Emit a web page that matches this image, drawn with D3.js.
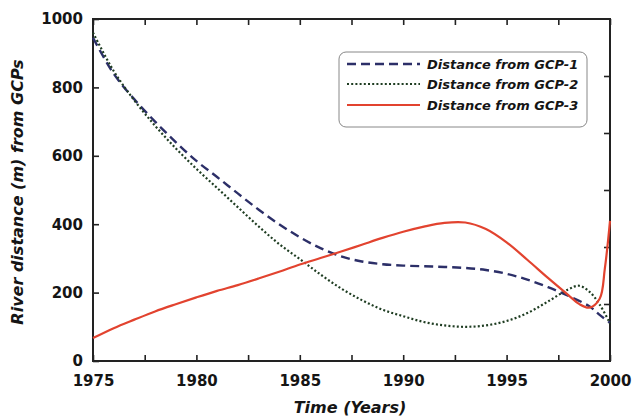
<!DOCTYPE html>
<html>
<head>
<meta charset="utf-8">
<script src="https://cdn.jsdelivr.net/npm/d3@7/dist/d3.min.js"></script>
<style>
  html, body { margin: 0; padding: 0; background: #fff; }
  svg { display: block; }
  text { font-family: "DejaVu Sans", sans-serif; font-weight: bold; fill: #151515; }
</style>
</head>
<body>
<svg id="chart" width="633" height="420"></svg>
<script>
// River distance from three ground control points, 1975–2000
const years1 = [1975,1976,1977,1978,1979,1980,1981,1982,1983,1984,1985,1986,1987,1988,1989,1990,1991,1992,1993,1994,1995,1996,1997,1998,1999,1999.5,2000];
const gcp1   = [945, 840, 765, 700, 640, 585, 538, 490, 443, 400, 362, 330, 306, 291, 283, 279, 277, 275, 272, 266, 255, 238, 216, 190, 160, 135, 112];

const years2 = [1975,1976,1977,1978,1979,1980,1981,1982,1983,1984,1985,1986,1987,1988,1989,1990,1991,1992,1993,1994,1995,1996,1997,1998,1998.5,1999,1999.5,2000];
const gcp2   = [960, 848, 762, 688, 622, 562, 506, 450, 394, 342, 298, 253, 212, 178, 150, 131, 114, 104, 100, 104, 117, 140, 174, 210, 220, 203, 165, 110];

const years3 = [1975,1976,1977,1978,1979,1980,1981,1982,1983,1984,1985,1986,1987,1988,1989,1990,1991,1992,1993,1994,1995,1996,1997,1998,1998.5,1999,1999.5,1999.75,2000];
const gcp3   = [67,  96,  121, 145, 166, 186, 205, 222, 241, 261, 282, 301, 320, 340, 360, 378, 393, 404, 405, 386, 347, 296, 243, 192, 167, 156, 182, 270, 410];

const seriesNames = ["Distance from GCP-1", "Distance from GCP-2", "Distance from GCP-3"];
const xTickLabels = [1975, 1980, 1985, 1990, 1995, 2000];
const yTickLabels = [0, 200, 400, 600, 800, 1000];

const svg = d3.select("#chart");
const m = { left: 93, right: 610, top: 19, bottom: 361 };

const x = d3.scaleLinear().domain([1975, 2000]).range([m.left, m.right]);
const y = d3.scaleLinear().domain([0, 1000]).range([m.bottom, m.top]);
const yRight = d3.scaleLinear().domain([0, 6]).range([m.bottom, m.top]);

const tickLen = 6;
const minorX = d3.range(0, 11).map(i => 1975 + i * 2.5);

// Bottom axis: inward ticks, labels every 5 years
const axBottom = svg.append("g").attr("transform", `translate(0,${m.bottom})`)
  .call(d3.axisBottom(x).tickValues(minorX).tickSize(-tickLen)
    .tickFormat(d => xTickLabels.includes(d) ? d3.format("d")(d) : "").tickPadding(14));
axBottom.select(".domain").remove();
axBottom.selectAll("text").attr("font-size", 15).attr("font-family", null);

// Top axis: inward ticks, no labels
const axTop = svg.append("g").attr("transform", `translate(0,${m.top})`)
  .call(d3.axisTop(x).tickValues(minorX).tickSize(-tickLen).tickFormat(""));
axTop.select(".domain").remove();

// Left axis
const axLeft = svg.append("g").attr("transform", `translate(${m.left},0)`)
  .call(d3.axisLeft(y).tickValues(yTickLabels).tickSize(-tickLen)
    .tickFormat(d3.format("d")).tickPadding(10));
axLeft.select(".domain").remove();
axLeft.selectAll("text").attr("font-size", 15).attr("font-family", null);

// Right axis: six inward divisions
const axRight = svg.append("g").attr("transform", `translate(${m.right},0)`)
  .call(d3.axisRight(yRight).tickValues([1,2,3,4,5]).tickSize(-tickLen).tickFormat(""));
axRight.select(".domain").remove();

svg.selectAll(".tick line").attr("stroke", "#222").attr("stroke-width", 1.6);

// Frame
svg.append("rect")
  .attr("x", m.left).attr("y", m.top)
  .attr("width", m.right - m.left).attr("height", m.bottom - m.top)
  .attr("fill", "none").attr("stroke", "#222").attr("stroke-width", 2);

// Curves
const line = d3.line().x(d => x(d[0])).y(d => y(d[1])).curve(d3.curveCatmullRom.alpha(0.5));
const styles = [
  { color: "#2c2f68", width: 2.4, dash: "9,5" },
  { color: "#1f3d22", width: 2.2, dash: "2,2.2" },
  { color: "#e2432f", width: 2.2, dash: null }
];
const data = [
  d3.zip(years1, gcp1),
  d3.zip(years2, gcp2),
  d3.zip(years3, gcp3)
];
const plot = svg.append("g");
data.forEach((d, i) => {
  plot.append("path").datum(d)
    .attr("d", line)
    .attr("fill", "none")
    .attr("stroke", styles[i].color)
    .attr("stroke-width", styles[i].width)
    .attr("stroke-dasharray", styles[i].dash);
});

// Legend
const lg = svg.append("g");
lg.append("rect").attr("x", 339).attr("y", 52).attr("width", 248).attr("height", 75)
  .attr("rx", 7).attr("fill", "#fff").attr("stroke", "#888").attr("stroke-width", 1);
const rowsY = [64, 84, 105];
seriesNames.forEach((name, i) => {
  lg.append("line")
    .attr("x1", 347).attr("x2", 420).attr("y1", rowsY[i]).attr("y2", rowsY[i])
    .attr("stroke", styles[i].color).attr("stroke-width", styles[i].width)
    .attr("stroke-dasharray", styles[i].dash);
  lg.append("text").attr("x", 427).attr("y", rowsY[i]).attr("dy", "0.36em")
    .attr("font-size", 13).attr("font-style", "italic").text(name);
});

// Axis titles
svg.append("text").attr("x", 350).attr("y", 413)
  .attr("text-anchor", "middle").attr("font-size", 16)
  .attr("font-style", "italic").text("Time (Years)");
svg.append("text").attr("transform", `translate(23,192) rotate(-90)`)
  .attr("text-anchor", "middle").attr("font-size", 16)
  .attr("font-style", "italic").text("River distance (m) from GCPs");
</script>
</body>
</html>
